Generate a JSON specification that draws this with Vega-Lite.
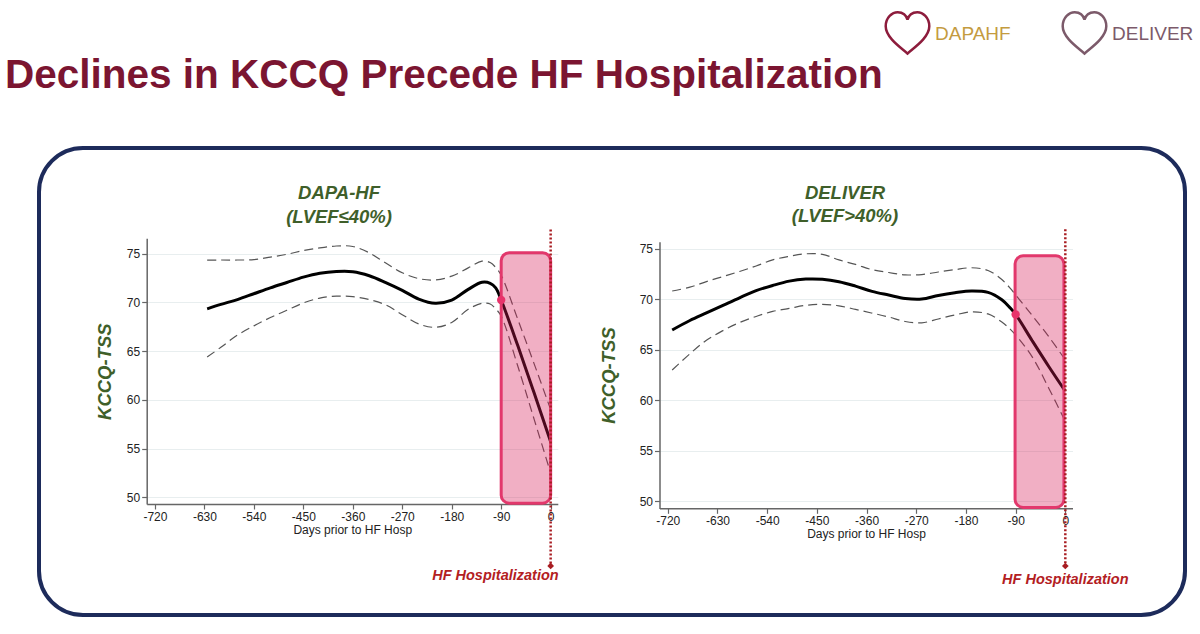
{
  "$schema": "https://vega.github.io/schema/vega-lite/v6.json",
  "width": 1146,
  "height": 467,
  "autosize": "none",
  "padding": {"left": 39, "top": 148, "right": 15, "bottom": 19},
  "background": "white",
  "view": {"stroke": "#1d2b5b", "strokeWidth": 4, "cornerRadius": 44, "fill": "white"},
  "title": {
    "text": "Declines in KCCQ Precede HF Hospitalization",
    "anchor": "start", "frame": "group", "dx": -34, "offset": -86,
    "fontSize": 40.5, "font": "Liberation Sans", "fontWeight": "bold", "color": "#7b1531"
  },
  "datasets": {
    "dapa": [
      {"day": -625, "est": 69.35, "lo": 64.4, "hi": 74.35},
      {"day": -600, "est": 69.8, "lo": 65.4, "hi": 74.36},
      {"day": -570, "est": 70.3, "lo": 66.65, "hi": 74.36},
      {"day": -540, "est": 70.9, "lo": 67.6, "hi": 74.4},
      {"day": -510, "est": 71.5, "lo": 68.45, "hi": 74.66},
      {"day": -480, "est": 72.05, "lo": 69.2, "hi": 74.95},
      {"day": -450, "est": 72.6, "lo": 69.95, "hi": 75.33},
      {"day": -420, "est": 73.0, "lo": 70.45, "hi": 75.6},
      {"day": -390, "est": 73.18, "lo": 70.65, "hi": 75.8},
      {"day": -360, "est": 73.16, "lo": 70.6, "hi": 75.75},
      {"day": -330, "est": 72.75, "lo": 70.3, "hi": 75.1},
      {"day": -300, "est": 72.05, "lo": 69.75, "hi": 74.05},
      {"day": -270, "est": 71.25, "lo": 68.75, "hi": 73.05},
      {"day": -240, "est": 70.35, "lo": 67.8, "hi": 72.45},
      {"day": -210, "est": 69.92, "lo": 67.45, "hi": 72.31},
      {"day": -180, "est": 70.25, "lo": 67.95, "hi": 72.7},
      {"day": -150, "est": 71.35, "lo": 69.3, "hi": 73.55},
      {"day": -125, "est": 72.07, "lo": 69.92, "hi": 74.25},
      {"day": -110, "est": 71.97, "lo": 69.85, "hi": 74.1},
      {"day": -100, "est": 71.5, "lo": 69.35, "hi": 73.6},
      {"day": -90, "est": 70.26, "lo": 68.6, "hi": 72.8},
      {"day": -60, "est": 65.6, "lo": 63.5, "hi": 68.3},
      {"day": -30, "est": 60.7, "lo": 58.0, "hi": 63.7},
      {"day": 0, "est": 55.7, "lo": 52.5, "hi": 59.0}
    ],
    "deliver": [
      {"day": -712, "est": 66.96, "lo": 63.0, "hi": 70.82},
      {"day": -680, "est": 67.9, "lo": 64.6, "hi": 71.2},
      {"day": -650, "est": 68.65, "lo": 65.95, "hi": 71.75},
      {"day": -620, "est": 69.4, "lo": 66.9, "hi": 72.25},
      {"day": -590, "est": 70.15, "lo": 67.7, "hi": 72.75},
      {"day": -560, "est": 70.85, "lo": 68.3, "hi": 73.3},
      {"day": -530, "est": 71.37, "lo": 68.8, "hi": 73.9},
      {"day": -500, "est": 71.8, "lo": 69.1, "hi": 74.25},
      {"day": -470, "est": 72.0, "lo": 69.4, "hi": 74.5},
      {"day": -440, "est": 71.98, "lo": 69.5, "hi": 74.45},
      {"day": -410, "est": 71.74, "lo": 69.35, "hi": 73.9},
      {"day": -380, "est": 71.3, "lo": 69.0, "hi": 73.45},
      {"day": -350, "est": 70.78, "lo": 68.63, "hi": 72.93},
      {"day": -320, "est": 70.42, "lo": 68.25, "hi": 72.65},
      {"day": -290, "est": 70.08, "lo": 67.8, "hi": 72.42},
      {"day": -260, "est": 70.02, "lo": 67.67, "hi": 72.45},
      {"day": -230, "est": 70.38, "lo": 68.05, "hi": 72.7},
      {"day": -200, "est": 70.65, "lo": 68.45, "hi": 72.93},
      {"day": -170, "est": 70.82, "lo": 68.75, "hi": 73.12},
      {"day": -140, "est": 70.68, "lo": 68.55, "hi": 72.85},
      {"day": -115, "est": 69.95, "lo": 67.75, "hi": 71.95},
      {"day": -100, "est": 69.15, "lo": 67.05, "hi": 71.1},
      {"day": -90, "est": 68.5, "lo": 66.47, "hi": 70.43},
      {"day": -60, "est": 65.9, "lo": 64.3, "hi": 68.4},
      {"day": -30, "est": 63.35, "lo": 61.2, "hi": 66.3},
      {"day": 0, "est": 60.9, "lo": 57.9, "hi": 64.0}
    ]
  },
  "layer": [
    {
      "layer": [
        {"data": {"name": "dapa"}, "mark": {"type": "line", "interpolate": "catmull-rom", "color": "#555555", "strokeWidth": 1.2, "strokeDash": [9, 5]},
         "encoding": {"x": {"field": "day", "type": "quantitative"}, "y": {"field": "hi", "type": "quantitative"}}},
        {"data": {"name": "dapa"}, "mark": {"type": "line", "interpolate": "catmull-rom", "color": "#555555", "strokeWidth": 1.2, "strokeDash": [9, 5]},
         "encoding": {"x": {"field": "day", "type": "quantitative"}, "y": {"field": "lo", "type": "quantitative"}}},
        {"data": {"name": "dapa"}, "mark": {"type": "line", "interpolate": "catmull-rom", "color": "#000000", "strokeWidth": 3},
         "encoding": {
           "x": {"field": "day", "type": "quantitative",
                 "scale": {"domain": [-735, 13], "range": [107.7, 518.8], "nice": false, "zero": false},
                 "axis": {"orient": "bottom", "offset": -111, "values": [-720, -630, -540, -450, -360, -270, -180, -90, 0], "labelExpr": "(datum.value < 0 ? '-' : '') + abs(datum.value)", "title": "Days prior to HF Hosp", "grid": false, "titleFontSize": 12, "titleFontWeight": "normal", "titleColor": "#222222", "titlePadding": 2, "labelOverlap": false, "labelFlush": false}},
           "y": {"field": "est", "type": "quantitative",
                 "scale": {"domain": [49.3, 76.6], "range": [356.1, 90.2], "nice": false, "zero": false},
                 "axis": {"orient": "left", "offset": -107.7, "values": [50, 55, 60, 65, 70, 75], "title": "KCCQ-TSS", "grid": true, "titleFontSize": 18.5, "titleFontWeight": "bold", "titleFontStyle": "italic", "titleColor": "#3f5f2a", "titlePadding": 12, "labelOverlap": false, "labelFlush": false}}
         }},
        {"data": {"values": [{"start": -90, "end": 0, "low": 49.4, "high": 75.1}]},
         "mark": {"type": "rect", "color": "#d81b55", "fillOpacity": 0.35, "stroke": "#e2386c", "strokeWidth": 3, "cornerRadius": 8},
         "encoding": {"x": {"field": "start", "type": "quantitative"}, "x2": {"field": "end"}, "y": {"field": "low", "type": "quantitative"}, "y2": {"field": "high"}}},
        {"data": {"name": "dapa"}, "transform": [{"filter": "datum.day === -90"}],
         "mark": {"type": "point", "filled": true, "color": "#e8336b", "size": 70, "opacity": 1},
         "encoding": {"x": {"field": "day", "type": "quantitative"}, "y": {"field": "est", "type": "quantitative"}}},
        {"data": {"values": [{"event": "HF Hospitalization", "day": 0}]},
         "mark": {"type": "rule", "color": "#a81d22", "strokeWidth": 2.5, "strokeDash": [2, 2]},
         "encoding": {"x": {"field": "day", "type": "quantitative"}, "y": {"datum": 77.5}, "y2": {"datum": 42.95}}},
        {"data": {"values": [{"event": "HF Hospitalization", "day": 0}]},
         "mark": {"type": "point", "shape": "diamond", "filled": true, "color": "#a81d22", "size": 45, "opacity": 1},
         "encoding": {"x": {"field": "day", "type": "quantitative"}, "y": {"datum": 42.95}}},
        {"data": {"values": [{"event": "HF Hospitalization", "day": 0}]},
         "mark": {"type": "text", "align": "right", "dx": 8, "baseline": "middle", "fontSize": 14.5, "fontWeight": "bold", "fontStyle": "italic", "color": "#b3201f", "font": "Liberation Sans"},
         "encoding": {"x": {"field": "day", "type": "quantitative"}, "y": {"datum": 41.9}, "text": {"field": "event"}}},
        {"data": {"values": [{"study": "DAPA-HF", "lvef": "(LVEF≤40%)"}]},
         "mark": {"type": "text", "align": "center", "baseline": "middle", "fontSize": 18.5, "fontWeight": "bold", "fontStyle": "italic", "color": "#3f5f2a", "font": "Liberation Sans"},
         "encoding": {"x": {"datum": -385}, "y": {"datum": 81.27}, "text": {"field": "study"}}},
        {"data": {"values": [{"study": "DAPA-HF", "lvef": "(LVEF≤40%)"}]},
         "mark": {"type": "text", "align": "center", "baseline": "middle", "fontSize": 18.5, "fontWeight": "bold", "fontStyle": "italic", "color": "#3f5f2a", "font": "Liberation Sans"},
         "encoding": {"x": {"datum": -385}, "y": {"datum": 78.81}, "text": {"field": "lvef"}}}
      ]
    },
    {
      "layer": [
        {"data": {"name": "deliver"}, "mark": {"type": "line", "interpolate": "catmull-rom", "color": "#555555", "strokeWidth": 1.2, "strokeDash": [9, 5]},
         "encoding": {"x": {"field": "day", "type": "quantitative"}, "y": {"field": "hi", "type": "quantitative"}}},
        {"data": {"name": "deliver"}, "mark": {"type": "line", "interpolate": "catmull-rom", "color": "#555555", "strokeWidth": 1.2, "strokeDash": [9, 5]},
         "encoding": {"x": {"field": "day", "type": "quantitative"}, "y": {"field": "lo", "type": "quantitative"}}},
        {"data": {"name": "deliver"}, "mark": {"type": "line", "interpolate": "catmull-rom", "color": "#000000", "strokeWidth": 3},
         "encoding": {
           "x": {"field": "day", "type": "quantitative",
                 "scale": {"domain": [-735, 13], "range": [620.5, 1033.5], "nice": false, "zero": false},
                 "axis": {"orient": "bottom", "offset": -106.7, "values": [-720, -630, -540, -450, -360, -270, -180, -90, 0], "labelExpr": "(datum.value < 0 ? '-' : '') + abs(datum.value)", "title": "Days prior to HF Hosp", "grid": false, "titleFontSize": 12, "titleFontWeight": "normal", "titleColor": "#222222", "titlePadding": 2, "labelOverlap": false, "labelFlush": false}},
           "y": {"field": "est", "type": "quantitative",
                 "scale": {"domain": [49.3, 75.7], "range": [360.4, 93.7], "nice": false, "zero": false},
                 "axis": {"orient": "left", "offset": -620.5, "values": [50, 55, 60, 65, 70, 75], "title": "KCCQ-TSS", "grid": true, "titleFontSize": 18.5, "titleFontWeight": "bold", "titleFontStyle": "italic", "titleColor": "#3f5f2a", "titlePadding": 21, "labelOverlap": false, "labelFlush": false}}
         }},
        {"data": {"values": [{"start": -91, "end": -2.5, "low": 49.4, "high": 74.3}]},
         "mark": {"type": "rect", "color": "#d81b55", "fillOpacity": 0.35, "stroke": "#e2386c", "strokeWidth": 3, "cornerRadius": 8},
         "encoding": {"x": {"field": "start", "type": "quantitative"}, "x2": {"field": "end"}, "y": {"field": "low", "type": "quantitative"}, "y2": {"field": "high"}}},
        {"data": {"name": "deliver"}, "transform": [{"filter": "datum.day === -90"}],
         "mark": {"type": "point", "filled": true, "color": "#e8336b", "size": 70, "opacity": 1},
         "encoding": {"x": {"field": "day", "type": "quantitative"}, "y": {"field": "est", "type": "quantitative"}}},
        {"data": {"values": [{"event": "HF Hospitalization", "day": 0}]},
         "mark": {"type": "rule", "color": "#a81d22", "strokeWidth": 2.5, "strokeDash": [2, 2]},
         "encoding": {"x": {"field": "day", "type": "quantitative"}, "y": {"datum": 76.93}, "y2": {"datum": 43.6}}},
        {"data": {"values": [{"event": "HF Hospitalization", "day": 0}]},
         "mark": {"type": "point", "shape": "diamond", "filled": true, "color": "#a81d22", "size": 45, "opacity": 1},
         "encoding": {"x": {"field": "day", "type": "quantitative"}, "y": {"datum": 43.6}}},
        {"data": {"values": [{"event": "HF Hospitalization", "day": 0}]},
         "mark": {"type": "text", "align": "center", "baseline": "middle", "fontSize": 14.5, "fontWeight": "bold", "fontStyle": "italic", "color": "#b3201f", "font": "Liberation Sans"},
         "encoding": {"x": {"field": "day", "type": "quantitative"}, "y": {"datum": 42.2}, "text": {"field": "event"}}},
        {"data": {"values": [{"study": "DELIVER", "lvef": "(LVEF>40%)"}]},
         "mark": {"type": "text", "align": "center", "baseline": "middle", "fontSize": 18.5, "fontWeight": "bold", "fontStyle": "italic", "color": "#3f5f2a", "font": "Liberation Sans"},
         "encoding": {"x": {"datum": -399}, "y": {"datum": 80.52}, "text": {"field": "study"}}},
        {"data": {"values": [{"study": "DELIVER", "lvef": "(LVEF>40%)"}]},
         "mark": {"type": "text", "align": "center", "baseline": "middle", "fontSize": 18.5, "fontWeight": "bold", "fontStyle": "italic", "color": "#3f5f2a", "font": "Liberation Sans"},
         "encoding": {"x": {"datum": -399}, "y": {"datum": 78.25}, "text": {"field": "lvef"}}}
      ]
    },
    {
      "data": {"values": [{"trial": "DAPA-HF"}, {"trial": "DELIVER"}]},
      "mark": {"type": "point", "filled": false, "opacity": 0, "strokeWidth": 2.5},
      "encoding": {
        "shape": {"field": "trial", "type": "nominal",
          "scale": {"range": ["M0,0.9 C-0.2,0.7 -1,0.2 -1,-0.35 C-1,-0.75 -0.7,-1 -0.45,-1 C-0.2,-1 -0.05,-0.85 0,-0.65 C0.05,-0.85 0.2,-1 0.45,-1 C0.7,-1 1,-0.75 1,-0.35 C1,0.2 0.2,0.7 0,0.9 Z", "M0,0.9 C-0.2,0.7 -1,0.2 -1,-0.35 C-1,-0.75 -0.7,-1 -0.45,-1 C-0.2,-1 -0.05,-0.85 0,-0.65 C0.05,-0.85 0.2,-1 0.45,-1 C0.7,-1 1,-0.75 1,-0.35 C1,0.2 0.2,0.7 0,0.9 Z"]},
          "legend": {"title": null, "orient": "none", "legendX": 845, "legendY": -138, "direction": "horizontal", "symbolSize": 1900, "symbolStrokeWidth": 2.5, "symbolOpacity": 1, "labelFont": "Liberation Sans", "labelFontSize": 19, "labelColor": {"expr": "datum.value === 'DAPA-HF' ? '#c49b3f' : '#7c5a6a'"}, "labelExpr": "datum.value === 'DAPA-HF' ? 'DAPAHF' : 'DELIVER'", "columnPadding": 46, "labelOffset": 4}},
        "color": {"field": "trial", "type": "nominal",
          "scale": {"range": ["#8d1c3c", "#7c5a6a"]},
          "legend": {"title": null, "orient": "none", "legendX": 845, "legendY": -138, "direction": "horizontal", "symbolSize": 1900, "symbolStrokeWidth": 2.5, "symbolOpacity": 1, "labelFont": "Liberation Sans", "labelFontSize": 19, "labelColor": {"expr": "datum.value === 'DAPA-HF' ? '#c49b3f' : '#7c5a6a'"}, "labelExpr": "datum.value === 'DAPA-HF' ? 'DAPAHF' : 'DELIVER'", "columnPadding": 46, "labelOffset": 4}}
      }
    }
  ],
  "resolve": {
    "scale": {"x": "independent", "y": "independent"},
    "axis": {"x": "independent", "y": "independent"}
  },
  "config": {
    "font": "Liberation Sans",
    "axis": {
      "domainColor": "#666666", "domainWidth": 1.5, "tickColor": "#666666", "tickWidth": 1.2, "tickSize": 5,
      "labelColor": "#222222", "labelFontSize": 12, "labelFont": "Liberation Sans", "labelPadding": 2,
      "gridColor": "#e8eeef", "gridWidth": 1, "titleFont": "Liberation Sans"
    }
  }
}
